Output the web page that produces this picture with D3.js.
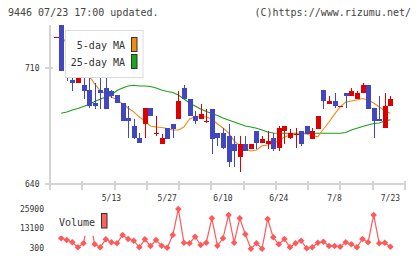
<!DOCTYPE html>
<html>
<head>
<meta charset="utf-8">
<script src="https://cdn.jsdelivr.net/npm/d3@7"></script>
<style>
body { margin: 0; background: #fff; }
svg text { font-family: "DejaVu Sans Mono", monospace; fill: #333; }
</style>
</head>
<body>
<svg id="chart" width="420" height="259"></svg>
<script>
// trading days shown on the chart
var dates = ["4/24","4/25","4/26","4/30","5/1","5/2","5/7","5/8","5/9","5/10",
    "5/13","5/14","5/15","5/16","5/17","5/20","5/21","5/22","5/23","5/24",
    "5/27","5/28","5/29","5/30","5/31","6/3","6/4","6/5","6/6","6/7",
    "6/10","6/11","6/12","6/13","6/14","6/17","6/18","6/19","6/20","6/21",
    "6/24","6/25","6/26","6/27","6/28","7/1","7/2","7/3","7/4","7/5",
    "7/8","7/9","7/10","7/11","7/12","7/16","7/17","7/18","7/19","7/22","7/23"];

var open  = [729,742,709,703,701,700,697,689,697,698, 696,694,689,680,675,668,676,686,670,664,
             674,676,679,698,691,681,679,678,685,671, 671,669,664,656,664,661,672,665,664,668,
             662,672,668,670,672,675,667,673,697,688, 690,687,695,693,691,695,700,686,679,674,687];
var high  = [729,742,714,709,715,715,715,701,706,708, 697,694,689,687,679,671,686,686,681,670,
             674,676,696,700,691,684,688,685,685,671, 674,676,669,669,669,664,672,669,672,671,
             675,675,673,674,672,675,674,681,697,693, 695,687,695,698,696,701,700,686,693,695,693];
var low   = [729,708,702,696,701,691,686,685,685,685, 692,689,678,668,667,665,668,681,669,664,
             667,668,679,691,681,676,679,677,658,663, 661,650,650,647,660,661,661,665,661,660,
             660,664,667,662,663,670,667,673,685,688, 686,687,686,693,691,695,685,668,678,674,687];
var close = [729,708,708,701,715,696,687,687,695,685, 693,689,678,678,668,665,686,681,671,668,
             667,673,690,691,681,678,682,678,667,668, 662,653,660,664,660,664,665,667,666,661,
             674,675,671,670,664,670,672,681,690,690, 687,687,693,696,695,700,685,678,678,687,691];

var volume = [null,6800,5700,4200,950,3560,22000,2900,950,6160, 4200,3560,8960,6360,5250,950,6160,1800,5700,2000,
              700,8960,25900,3950,3560,7860,2450,3950,19840,2000, 6800,22000,3950,19840,9420,0,3560,0,19400,7460,
              2900,6360,950,3560,5250,300,950,3950,4600,1800, 1800,1340,4200,2900,950,6360,4200,22000,3560,3950,1340];

var ma5 = [null,729.9,724.5,719.7,714.8,710.0,705.2,700.4,696.2,694.4, 692.5,690.8,688.3,685.9,683.5,680.4,678.0,675.0,674.4,674.1,
           673.5,672.6,672.6,674.4,679.2,680.4,680.6,680.4,679.2,676.2, 673.8,670.8,666.0,663.0,661.1,659.9,660.5,663.0,663.5,664.7,
           666.0,668.4,669.6,670.2,670.5,670.2,669.0,668.6,673.2,677.4, 682.2,686.5,689.5,690.1,690.7,691.6,690.7,688.9,686.5,684.1,682.7];

var ma25 = [null,682.7,683.5,684.7,685.6,686.8,688.0,689.8,691.1,692.5, 693.7,696.4,697.9,699.1,699.6,699.1,699.1,698.8,697.9,696.7,
            695.8,695.2,693.7,691.3,688.9,687.1,685.3,683.8,682.5,681.3, 679.8,678.6,677.4,676.2,675.0,674.4,673.6,672.6,671.4,670.8,
            670.6,670.6,670.6,670.6,670.6,670.6,670.6,670.6,670.6,670.6, 670.6,670.6,671.1,672.6,673.6,674.7,675.6,676.5,676.8,678.0,678.8];

var priceTicks = [640, 710];
var volumeTicks = [300, 13100, 25900];
var dateLabels = ["5/13", "5/27", "6/10", "6/24", "7/8", "7/23"];

var svg = d3.select("#chart");

var x = d3.scalePoint().domain(dates).range([55.6, 390.4]);
var frame = d3.scaleLinear().domain([0, 11]).range([50, 405]);
var y = d3.scaleLinear().domain([640, 710]).range([184, 68]);
var yv = d3.scaleLinear().domain([300, 25900]).range([248.3, 209]);

var blue = "#4047c0", red = "#dd0000", axisColor = "#d4d4d4";

svg.append("rect").attr("width", 420).attr("height", 259).attr("fill", "#fff");

// header
svg.append("text").attr("x", 8).attr("y", 16).style("font-size", "10px").style("fill", "#444")
    .text("9446 07/23 17:00 updated.");
svg.append("text").attr("x", 411).attr("y", 16).attr("text-anchor", "end")
    .style("font-size", "10px").style("fill", "#444")
    .text("(C)https://www.rizumu.net/");

svg.append("defs").append("clipPath").attr("id", "plot")
    .append("rect").attr("x", 50).attr("y", 25).attr("width", 355).attr("height", 159);

// axes
var axis = svg.append("g").attr("stroke", axisColor).attr("stroke-width", 2).attr("shape-rendering", "crispEdges");
axis.append("line").attr("x1", 50).attr("x2", 50).attr("y1", 25).attr("y2", 190);
axis.append("line").attr("x1", 45).attr("x2", 405).attr("y1", y(640)).attr("y2", y(640));
axis.selectAll(".xt").data(frame.ticks(11)).enter().append("line")
    .attr("x1", frame).attr("x2", frame).attr("y1", y(640) - 3).attr("y2", y(640) + 6);
axis.selectAll(".yt").data(priceTicks).enter().append("line")
    .attr("x1", 45).attr("x2", 53).attr("y1", y).attr("y2", y);

svg.selectAll(".plabel").data(priceTicks).enter().append("text")
    .attr("x", 39.5).attr("y", y).attr("dy", "0.35em").attr("text-anchor", "end")
    .style("font-size", "8px").text(function(d) { return d; });

svg.selectAll(".dlabel").data(dateLabels).enter().append("text")
    .attr("x", function(d) { return x(d); }).attr("y", 201).attr("text-anchor", "middle")
    .style("font-size", "8px").text(function(d) { return d; });

// moving averages
var plot = svg.append("g").attr("clip-path", "url(#plot)");

function maLine(values) {
    return d3.line()
        .defined(function(d, i) { return values[i] != null; })
        .x(function(d, i) { return x(dates[i]); })
        .y(function(d, i) { return y(values[i]); })(values);
}
plot.append("path").attr("d", maLine(ma25)).attr("fill", "none").attr("stroke", "#1aa01a").attr("stroke-width", 1.1);
plot.append("path").attr("d", maLine(ma5)).attr("fill", "none").attr("stroke", "#f08c10").attr("stroke-width", 1.1);

// legend (candles are drawn over it)
var legend = svg.append("g");
legend.append("rect").attr("x", 65.5).attr("y", 30.5).attr("width", 77.5).attr("height", 47)
    .attr("fill", "#fff").attr("stroke", "#dcdcdc");
legend.append("text").attr("x", 125).attr("y", 49).attr("text-anchor", "end").style("font-size", "10px").text("5-day MA");
legend.append("text").attr("x", 125).attr("y", 66).attr("text-anchor", "end").style("font-size", "10px").text("25-day MA");
legend.append("rect").attr("x", 131.5).attr("y", 37.5).attr("width", 5.5).attr("height", 14)
    .attr("fill", "#f08c10").attr("stroke", "#333");
legend.append("rect").attr("x", 131.5).attr("y", 54.5).attr("width", 5.5).attr("height", 14)
    .attr("fill", "#18a818").attr("stroke", "#333");

// candles
var candles = plot.append("g").attr("shape-rendering", "crispEdges");
var idx = d3.range(dates.length);
var color = function(i) { return close[i] >= open[i] ? red : blue; };

candles.selectAll(".wick").data(idx).enter().append("line")
    .attr("x1", function(i) { return Math.round(x(dates[i])) + 0.5; })
    .attr("x2", function(i) { return Math.round(x(dates[i])) + 0.5; })
    .attr("y1", function(i) { return y(high[i]); })
    .attr("y2", function(i) { return y(low[i]); })
    .attr("stroke", color).attr("stroke-width", 1.2);

candles.selectAll(".body").data(idx).enter().append("rect")
    .attr("x", function(i) { return Math.round(x(dates[i])) - 2; })
    .attr("width", 5)
    .attr("y", function(i) { return y(Math.max(open[i], close[i])); })
    .attr("height", function(i) { return Math.max(1.2, Math.abs(y(open[i]) - y(close[i]))); })
    .attr("fill", color);

// volume
var vol = svg.append("g");
vol.append("path")
    .attr("d", d3.line()
        .defined(function(d) { return d != null; })
        .x(function(d, i) { return x(dates[i]); })
        .y(function(d) { return yv(d); })(volume))
    .attr("fill", "none").attr("stroke", "#ff5a5a").attr("stroke-width", 1.2);

vol.selectAll(".mark").data(idx.filter(function(i) { return volume[i] != null; })).enter().append("path")
    .attr("transform", function(i) { return "translate(" + x(dates[i]) + "," + yv(volume[i]) + ")"; })
    .attr("d", "M0,-3.3L3.3,0L0,3.3L-3.3,0Z")
    .attr("fill", "#ff5a5a");

vol.append("rect").attr("x", 55).attr("y", 205).attr("width", 56).attr("height", 30.8).attr("fill", "#fff");
vol.append("text").attr("x", 59).attr("y", 225.5).style("font-size", "10px").text("Volume");
vol.append("rect").attr("x", 101.5).attr("y", 213.5).attr("width", 5.5).attr("height", 14.5)
    .attr("fill", "#ff6060").attr("stroke", "#333");

svg.selectAll(".vlabel").data(volumeTicks).enter().append("text")
    .attr("x", 44).attr("y", yv).attr("dy", "0.35em").attr("text-anchor", "end")
    .style("font-size", "8px").text(function(d) { return d; });
</script>
</body>
</html>
